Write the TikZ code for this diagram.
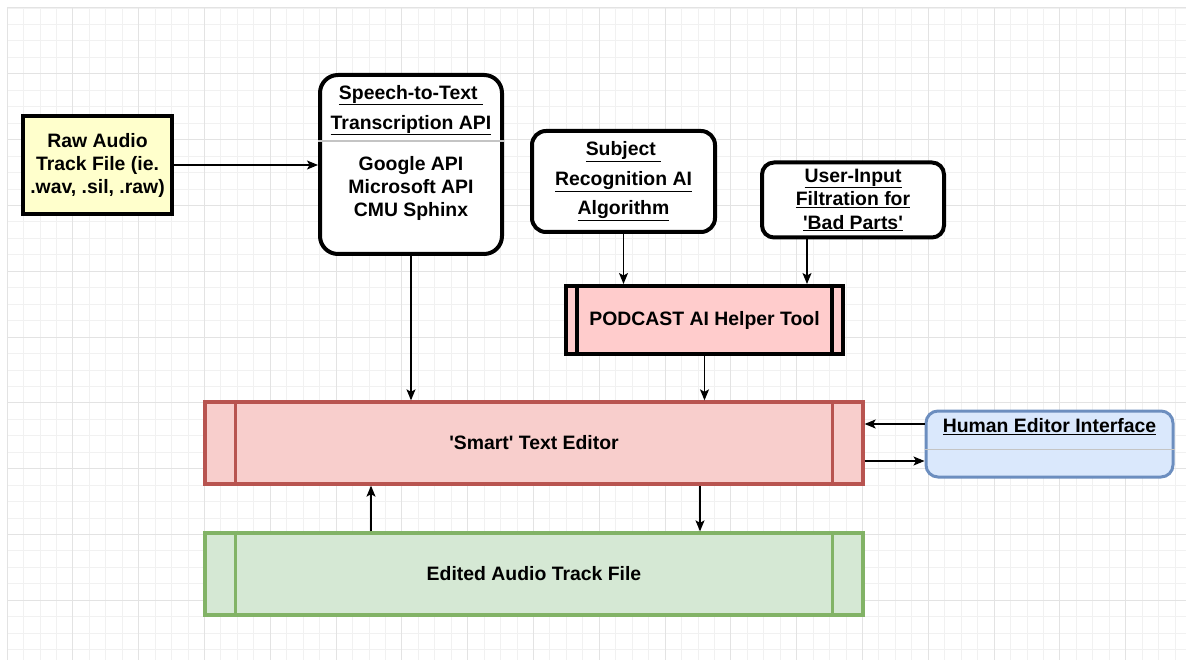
\documentclass[tikz,border=0pt]{standalone}
\usepackage{fontspec}
\setmainfont{Liberation Sans}
\usetikzlibrary{arrows.meta, calc}
\definecolor{rawyellow}{HTML}{FFFFCC}
\definecolor{helperpink}{HTML}{FFCCCC}
\definecolor{smartfill}{HTML}{F8CECC}
\definecolor{smartline}{HTML}{B85450}
\definecolor{editfill}{HTML}{D5E8D4}
\definecolor{editline}{HTML}{82B366}
\definecolor{humanfill}{HTML}{DAE8FC}
\definecolor{humanline}{HTML}{6C8EBF}
\definecolor{gridminor}{HTML}{F1F1F1}
\definecolor{gridmajor}{HTML}{E3E3E3}
\definecolor{sepgray}{HTML}{C4C4C4}
\tikzset{>={Stealth[length=11pt,width=9pt,inset=2.5pt]}}
\newcommand{\sq}{\textquotesingle}

\begin{document}
\begin{tikzpicture}[x=1pt, y=-1pt,
  lbl/.style={font=\fontsize{19.4}{23}\selectfont\bfseries, align=center, inner sep=0pt},
  blackbox/.style={draw, line width=4pt, lbl},
  roundbox/.style={blackbox, fill=white, rounded corners=#1},
  conn/.style={->, line width=1.3pt}]

% page and grid
\useasboundingbox[fill=white] (0,0) rectangle (1186,660);
\foreach \i in {0,...,71} \draw[gridminor, line width=0.8pt] (7+\i*16.45,8) -- (7+\i*16.45,660);
\foreach \j in {0,...,39} \draw[gridminor, line width=0.8pt] (7,8+\j*16.45) -- (1186,8+\j*16.45);
\foreach \i in {0,...,17} \draw[gridmajor, line width=1pt] (7+\i*65.8,8) -- (7+\i*65.8,660);
\foreach \j in {0,...,9} \draw[gridmajor, line width=1pt] (7,8+\j*65.8) -- (1186,8+\j*65.8);

% inputs
\node[blackbox, fill=rawyellow, minimum width=149pt, minimum height=98pt] (raw) at (97.5,165)
  {Raw Audio\\Track File (ie.\\.wav, .sil, .raw)};
\node[roundbox=18pt, minimum width=182pt, minimum height=179pt] (stt) at (411,164.5) {};
\node[lbl, font=\fontsize{19.4}{30}\selectfont\bfseries] (sttTitle) at ([yshift=-37pt]stt.north)
  {\underline{Speech-to-Text\ }\\\underline{Transcription API}};
\node[lbl] (sttBody) at ([yshift=-115pt]stt.north) {Google API\\Microsoft API\\CMU Sphinx};
\draw[sepgray, line width=1.5pt] ([yshift=-68pt]stt.north west) -- ([yshift=-68pt]stt.north east);

\node[roundbox=14pt, minimum width=183pt, minimum height=101pt,
  font=\fontsize{19.4}{29.5}\selectfont\bfseries] (subj) at (623.5,181.5)
  {\underline{Subject\ }\\\underline{Recognition AI}\\\underline{Algorithm}};
\node[roundbox=12pt, minimum width=182pt, minimum height=75pt,
  font=\fontsize{19.4}{23.5}\selectfont\bfseries] (user) at (853,200)
  {\underline{User-Input}\\\underline{Filtration for}\\\underline{\sq Bad Parts\sq}};

% processing
\node[blackbox, fill=helperpink, minimum width=277pt, minimum height=68pt] (podcast) at (704.5,320)
  {PODCAST AI Helper Tool};
\node[lbl, draw=smartline, fill=smartfill, line width=3.3pt, minimum width=658pt, minimum height=82pt]
  (smart) at (534,443) {\sq Smart\sq\ Text Editor};
\node[lbl, draw=editline, fill=editfill, line width=3.3pt, minimum width=658pt, minimum height=82pt]
  (edited) at (534,574) {Edited Audio Track File};
\foreach \n/\d/\c/\w in {podcast/13/black/4, smart/32/smartline/3.3, edited/32/editline/3.3}{
  \draw[\c, line width=\w pt] ([xshift=\d pt]\n.north west) -- ([xshift=\d pt]\n.south west);
  \draw[\c, line width=\w pt] ([xshift=-\d pt]\n.north east) -- ([xshift=-\d pt]\n.south east);
}

\node[draw=humanline, fill=humanfill, line width=3pt, rounded corners=12pt,
  minimum width=247pt, minimum height=66pt] (human) at (1049.5,444) {};
\node[lbl] (humanTitle) at ([yshift=-17pt]human.north) {\underline{Human Editor Interface}};
\draw[sepgray, line width=1.5pt] ([yshift=-40pt]human.north west) -- ([yshift=-40pt]human.north east);

% connectors
\draw[conn] (raw.east) -- (raw.east -| stt.west);
\draw[conn] (stt.south) -- (stt.south |- smart.north);
\draw[conn] (subj.south) -- (subj.south |- podcast.north);
\draw[conn] ([xshift=-46pt]user.south) coordinate (userOut) -- (userOut |- podcast.north);
\draw[conn] (podcast.south) -- (podcast.south |- smart.north);
\draw[conn] ([yshift=20pt]human.west) coordinate (humanOut) -- (humanOut -| smart.east);
\draw[conn] ([yshift=-18pt]smart.east) coordinate (smartOut) -- (smartOut -| human.west);
\draw[conn] ([xshift=166pt]smart.south) coordinate (smartDown) -- (smartDown |- edited.north);
\draw[conn] ([xshift=-163pt]edited.north) coordinate (editUp) -- (editUp |- smart.south);
\end{tikzpicture}
\end{document}
